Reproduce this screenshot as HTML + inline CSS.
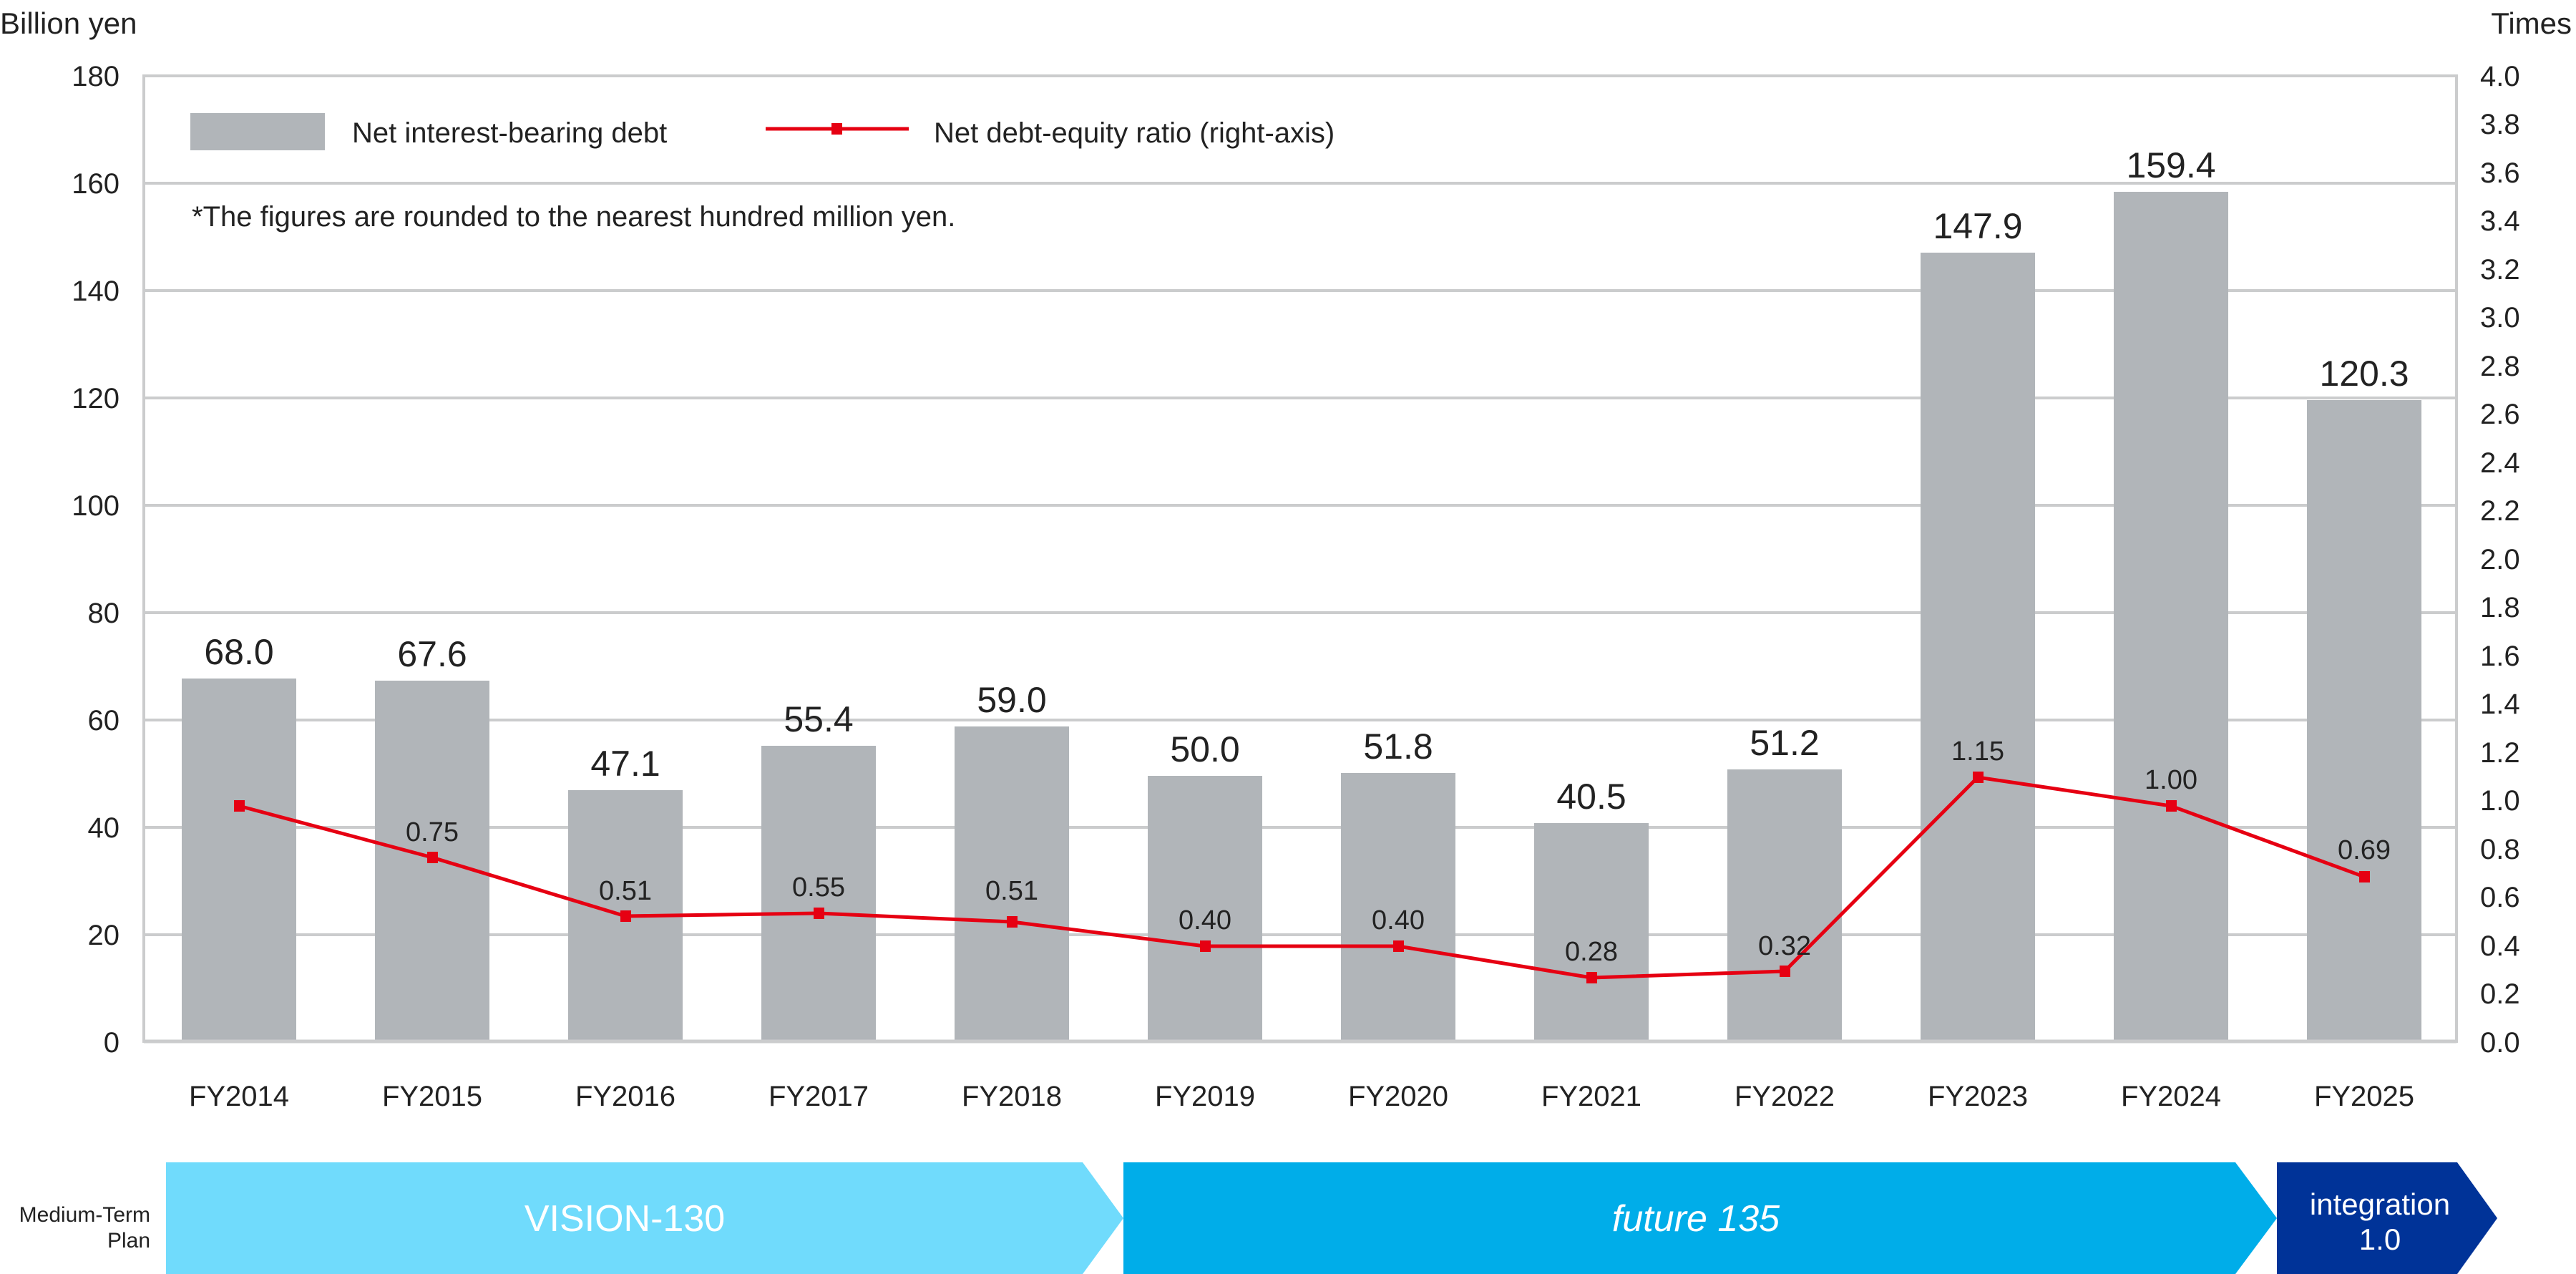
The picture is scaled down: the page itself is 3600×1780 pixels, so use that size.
<!DOCTYPE html>
<html><head><meta charset="utf-8"><style>
html,body{margin:0;padding:0;background:#fff;}
svg{display:block;}
text{font-family:"Liberation Sans",sans-serif;fill:#222;}
</style></head><body>
<svg width="3600" height="1780" viewBox="0 0 3600 1780" xmlns="http://www.w3.org/2000/svg">
<!-- gridlines -->
<g stroke="#cbcccd" stroke-width="4">
<line x1="201" y1="106" x2="3433" y2="106"/>
<line x1="201" y1="256" x2="3433" y2="256"/>
<line x1="201" y1="406" x2="3433" y2="406"/>
<line x1="201" y1="556" x2="3433" y2="556"/>
<line x1="201" y1="706" x2="3433" y2="706"/>
<line x1="201" y1="856" x2="3433" y2="856"/>
<line x1="201" y1="1006" x2="3433" y2="1006"/>
<line x1="201" y1="1156" x2="3433" y2="1156"/>
<line x1="201" y1="1306" x2="3433" y2="1306"/>
<line x1="201" y1="104" x2="201" y2="1457"/>
<line x1="3433" y1="104" x2="3433" y2="1457"/>
</g>
<!-- bars -->
<g fill="#b1b5b9">
<rect x="254" y="948" width="160" height="507"/>
<rect x="524" y="951" width="160" height="504"/>
<rect x="794" y="1104" width="160" height="351"/>
<rect x="1064" y="1042" width="160" height="413"/>
<rect x="1334" y="1015" width="160" height="440"/>
<rect x="1604" y="1084" width="160" height="371"/>
<rect x="1874" y="1080" width="160" height="375"/>
<rect x="2144" y="1150" width="160" height="305"/>
<rect x="2414" y="1075" width="160" height="380"/>
<rect x="2684" y="353" width="160" height="1102"/>
<rect x="2954" y="268" width="160" height="1187"/>
<rect x="3224" y="559" width="160" height="896"/>
</g>
<line x1="201" y1="1455" x2="3433" y2="1455" stroke="#cbcccd" stroke-width="5"/>
<!-- bar labels -->
<g font-size="50" text-anchor="middle">
<text x="334" y="928">68.0</text>
<text x="604" y="931">67.6</text>
<text x="874" y="1084">47.1</text>
<text x="1144" y="1022">55.4</text>
<text x="1414" y="995">59.0</text>
<text x="1684" y="1064">50.0</text>
<text x="1954" y="1060">51.8</text>
<text x="2224" y="1130">40.5</text>
<text x="2494" y="1055">51.2</text>
<text x="2764" y="333">147.9</text>
<text x="3034" y="248">159.4</text>
<text x="3304" y="539">120.3</text>
</g>
<!-- line -->
<polyline fill="none" stroke="#e60012" stroke-width="5" points="334,1126 604,1198 874,1280 1144,1276 1414,1288 1684,1322 1954,1322 2224,1366 2494,1357 2764,1086 3034,1126 3304,1225"/>
<g fill="#e60012">
<rect x="327" y="1118" width="15" height="16"/>
<rect x="597" y="1190" width="15" height="16"/>
<rect x="867" y="1272" width="15" height="16"/>
<rect x="1137" y="1268" width="15" height="16"/>
<rect x="1407" y="1280" width="15" height="16"/>
<rect x="1677" y="1314" width="15" height="16"/>
<rect x="1947" y="1314" width="15" height="16"/>
<rect x="2217" y="1358" width="15" height="16"/>
<rect x="2487" y="1349" width="15" height="16"/>
<rect x="2757" y="1078" width="15" height="16"/>
<rect x="3027" y="1118" width="15" height="16"/>
<rect x="3297" y="1217" width="15" height="16"/>
</g>
<g font-size="38" text-anchor="middle">
<text x="604" y="1175">0.75</text>
<text x="874" y="1257">0.51</text>
<text x="1144" y="1252">0.55</text>
<text x="1414" y="1257">0.51</text>
<text x="1684" y="1298">0.40</text>
<text x="1954" y="1298">0.40</text>
<text x="2224" y="1342">0.28</text>
<text x="2494" y="1334">0.32</text>
<text x="2764" y="1062">1.15</text>
<text x="3034" y="1102">1.00</text>
<text x="3304" y="1200">0.69</text>
</g>
<!-- left axis labels -->
<g font-size="40" text-anchor="end">
<text x="167" y="120">180</text>
<text x="167" y="270">160</text>
<text x="167" y="420">140</text>
<text x="167" y="570">120</text>
<text x="167" y="720">100</text>
<text x="167" y="870">80</text>
<text x="167" y="1020">60</text>
<text x="167" y="1170">40</text>
<text x="167" y="1320">20</text>
<text x="167" y="1470">0</text>
</g>
<!-- right axis labels -->
<g font-size="40" text-anchor="start">
<text x="3466" y="120">4.0</text>
<text x="3466" y="187">3.8</text>
<text x="3466" y="255">3.6</text>
<text x="3466" y="322">3.4</text>
<text x="3466" y="390">3.2</text>
<text x="3466" y="457">3.0</text>
<text x="3466" y="525">2.8</text>
<text x="3466" y="592">2.6</text>
<text x="3466" y="660">2.4</text>
<text x="3466" y="727">2.2</text>
<text x="3466" y="795">2.0</text>
<text x="3466" y="862">1.8</text>
<text x="3466" y="930">1.6</text>
<text x="3466" y="997">1.4</text>
<text x="3466" y="1065">1.2</text>
<text x="3466" y="1132">1.0</text>
<text x="3466" y="1200">0.8</text>
<text x="3466" y="1267">0.6</text>
<text x="3466" y="1335">0.4</text>
<text x="3466" y="1402">0.2</text>
<text x="3466" y="1470">0.0</text>
</g>
<text x="0" y="47" font-size="42">Billion yen</text>
<text x="3594" y="47" font-size="42" text-anchor="end">Times</text>
<!-- x labels -->
<g font-size="40" text-anchor="middle">
<text x="334" y="1545">FY2014</text>
<text x="604" y="1545">FY2015</text>
<text x="874" y="1545">FY2016</text>
<text x="1144" y="1545">FY2017</text>
<text x="1414" y="1545">FY2018</text>
<text x="1684" y="1545">FY2019</text>
<text x="1954" y="1545">FY2020</text>
<text x="2224" y="1545">FY2021</text>
<text x="2494" y="1545">FY2022</text>
<text x="2764" y="1545">FY2023</text>
<text x="3034" y="1545">FY2024</text>
<text x="3304" y="1545">FY2025</text>
</g>
<!-- legend -->
<rect x="266" y="158" width="188" height="52" fill="#b1b5b9"/>
<text x="492" y="199" font-size="40">Net interest-bearing debt</text>
<line x1="1070" y1="180" x2="1270" y2="180" stroke="#e60012" stroke-width="5"/>
<rect x="1162" y="172" width="15" height="16" fill="#e60012"/>
<text x="1305" y="199" font-size="40">Net debt-equity ratio (right-axis)</text>
<text x="268" y="316" font-size="40">*The figures are rounded to the nearest hundred million yen.</text>
<!-- plan -->
<g font-size="30" text-anchor="end">
<text x="210" y="1707">Medium-Term</text>
<text x="210" y="1743">Plan</text>
</g>
<polygon points="232,1624 1513,1624 1570,1702 1513,1780 232,1780" fill="#70dbfc"/>
<polygon points="1570,1624 3124,1624 3182,1702 3124,1780 1570,1780" fill="#00ade9"/>
<polygon points="3182,1624 3434,1624 3490,1702 3434,1780 3182,1780" fill="#003398"/>
<text x="873" y="1720" font-size="52" text-anchor="middle" style="fill:#fff">VISION-130</text>
<text x="2370" y="1720" font-size="52" text-anchor="middle" font-style="italic" style="fill:#fff">future 135</text>
<text x="3326" y="1697" font-size="42" text-anchor="middle" style="fill:#fff">integration</text>
<text x="3326" y="1746" font-size="42" text-anchor="middle" style="fill:#fff">1.0</text>
</svg>
</body></html>
